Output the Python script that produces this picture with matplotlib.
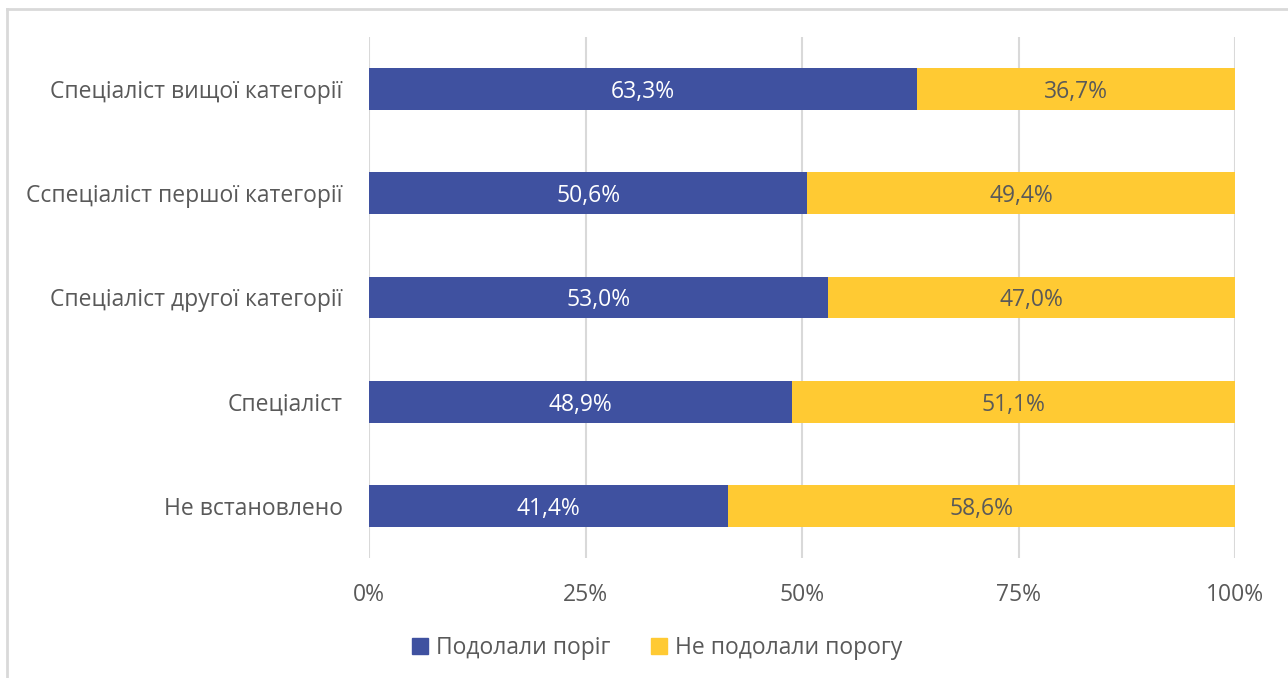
import numpy as np
import matplotlib.pyplot as plt
from matplotlib.lines import Line2D

plt.rcParams['font.family'] = ['Open Sans', 'DejaVu Sans']

categories = ['Спеціаліст вищої категорії', 'Сспеціаліст першої категорії',
              'Спеціаліст другої категорії', 'Спеціаліст', 'Не встановлено']
passed = [63.3, 50.6, 53.0, 48.9, 41.4]
failed = [36.7, 49.4, 47.0, 51.1, 58.6]
series_names = ['Подолали поріг', 'Не подолали порогу']
xticks = [0, 25, 50, 75, 100]

blue = '#3F51A0'
yellow = '#FFCA33'
gray = '#595959'

fig = plt.figure(figsize=(12.88, 6.78), dpi=100)
ax = fig.add_axes([369 / 1288, 1 - 558 / 678, (1235 - 369) / 1288, 521 / 678])

y = np.arange(len(categories))[::-1]
ax.barh(y, passed, height=0.4, color=blue, label=series_names[0], zorder=3)
ax.barh(y, failed, left=passed, height=0.4, color=yellow, label=series_names[1], zorder=3)

def fmt(v):
    return f'{v:.1f}%'.replace('.', ',')

for yi, p, f in zip(y, passed, failed):
    ax.text(p / 2, yi, fmt(p), ha='center', va='center_baseline', color='white',
            fontsize=16.5, zorder=4)
    ax.text(p + f / 2, yi, fmt(f), ha='center', va='center_baseline', color=gray,
            fontsize=16.5, zorder=4)

ax.set_xlim(0, 100)
ax.set_ylim(-0.5, 4.5)
ax.set_xticks(xticks)
ax.set_xticklabels([f'{t}%' for t in xticks])
ax.set_yticks(y)
ax.set_yticklabels(categories)
ax.tick_params(length=0, labelsize=16.5, labelcolor=gray)
ax.tick_params(axis='x', pad=18)
ax.tick_params(axis='y', pad=19)
ax.grid(axis='x', color='#D9D9D9', linewidth=1.5, zorder=0)
for s in ax.spines.values():
    s.set_visible(False)

handles = [Line2D([], [], marker='s', linestyle='', markersize=11, color=blue),
           Line2D([], [], marker='s', linestyle='', markersize=11, color=yellow)]
fig.legend(handles, series_names, loc='center', bbox_to_anchor=(653 / 1288, 1 - 648 / 678),
           ncol=2, frameon=False, fontsize=16.5, labelcolor=gray, handletextpad=0.0,
           handlelength=1.4, columnspacing=1.4)

# chart frame (left and top edges visible)
fig.add_artist(Line2D([7 / 1288, 7 / 1288], [0, 1 - 9 / 678], transform=fig.transFigure,
                      color='#D9D9D9', linewidth=2))
fig.add_artist(Line2D([7 / 1288, 1], [1 - 9 / 678, 1 - 9 / 678], transform=fig.transFigure,
                      color='#D9D9D9', linewidth=2))

fig.savefig('out.png', dpi=100)
